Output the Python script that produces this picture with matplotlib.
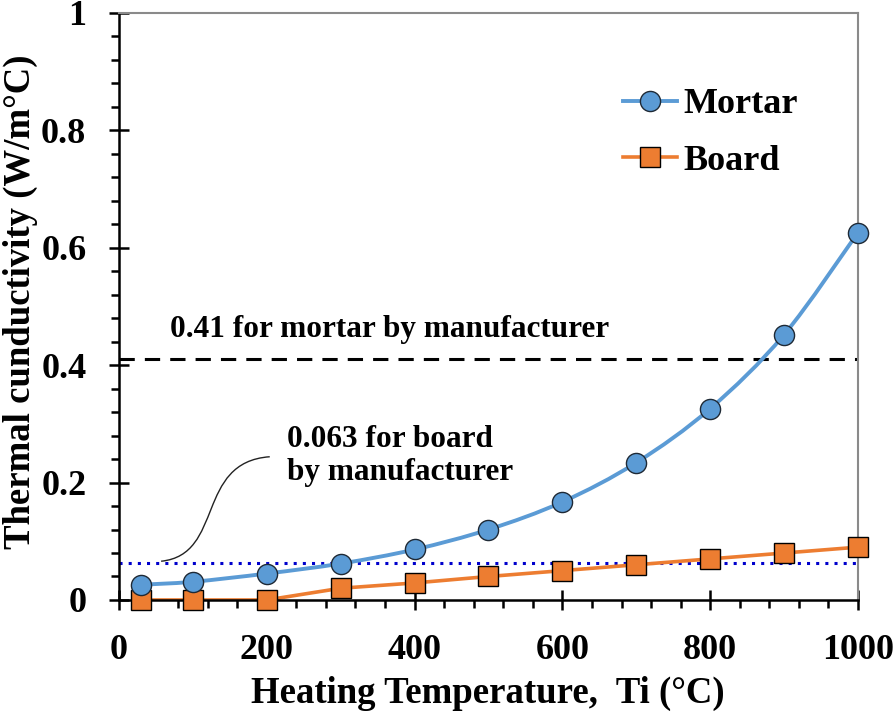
import numpy as np
import matplotlib.pyplot as plt
from matplotlib.path import Path
from matplotlib.patches import PathPatch
from matplotlib.lines import Line2D
from matplotlib.ticker import MultipleLocator

plt.rcParams['font.family'] = ['Liberation Serif', 'DejaVu Serif']
plt.rcParams['font.weight'] = 'bold'

temps = [30, 100, 200, 300, 400, 500, 600, 700, 800, 900, 1000]
mortar = [0.026, 0.031, 0.045, 0.062, 0.086, 0.12, 0.167, 0.234, 0.326, 0.452, 0.626]
board = [0.0, 0.0, 0.0, 0.02, 0.029, 0.04, 0.05, 0.06, 0.07, 0.08, 0.09]
mortar_ref = 0.41
board_ref = 0.063

blue = '#5B9BD5'
orange = '#ED7D31'


def smooth_path(x, y):
    # excel style smoothed line: catmull-rom segments as cubic beziers
    p = np.column_stack([x, y]).astype(float)
    n = len(p)
    verts = [p[0]]
    codes = [Path.MOVETO]
    for i in range(n - 1):
        p0 = p[i - 1] if i > 0 else p[i]
        p3 = p[i + 2] if i + 2 < n else p[i + 1]
        c1 = p[i] + (p[i + 1] - p0) / 6
        c2 = p[i + 1] - (p3 - p[i]) / 6
        verts += [c1, c2, p[i + 1]]
        codes += [Path.CURVE4] * 3
    return Path(verts, codes)


def ytick_fmt(v, pos):
    v = round(v, 2)
    if v == 0:
        return '0'
    if v == 1:
        return '1'
    return f'{v:.1f}'


fig = plt.figure(figsize=(8.96, 7.14), dpi=100)
ax = fig.add_axes([0.1328, 0.1597, 0.9576 - 0.1328, 0.9818 - 0.1597])

ax.axhline(mortar_ref, color='black', lw=2.2, dashes=(5, 3.3), zorder=1)
ax.axhline(board_ref, color='#0000CC', lw=2.2, dashes=(1, 2), zorder=1)

ax.add_patch(PathPatch(smooth_path(temps, mortar), fill=False, ec=blue, lw=2.8, zorder=2))
ax.plot(temps, board, color=orange, lw=2.6, zorder=2)
ax.plot(temps, mortar, 'o', ms=14.5, mfc=blue, mec='#1f2a36', mew=1.0, zorder=4, clip_on=False)
ax.plot(temps, board, 's', ms=14.5, mfc=orange, mec='black', mew=1.0, zorder=3, clip_on=False)

# connector for the board note
conn = Path([(57, 0.066), (143, 0.077), (103, 0.235), (204, 0.244)],
            [Path.MOVETO, Path.CURVE4, Path.CURVE4, Path.CURVE4])
ax.add_patch(PathPatch(conn, fill=False, ec='#222222', lw=1.0))

ax.text(69, 0.46, '0.41 for mortar by manufacturer', fontsize=22.5, fontweight='bold',
        va='center', ha='left')
ax.text(227, 0.245, '0.063 for board\nby manufacturer', fontsize=22.5, fontweight='bold',
        va='center', ha='left', linespacing=1.2)

ax.set_xlim(0, 1000)
ax.set_ylim(0, 1)
ax.xaxis.set_major_locator(MultipleLocator(200))
ax.xaxis.set_minor_locator(MultipleLocator(40))
ax.yaxis.set_major_locator(MultipleLocator(0.2))
ax.yaxis.set_minor_locator(MultipleLocator(0.04))
ax.yaxis.set_major_formatter(plt.FuncFormatter(ytick_fmt))

ax.tick_params(which='major', direction='inout', length=15, width=1.8, labelsize=26)
ax.tick_params(axis='x', which='major', pad=17)
ax.tick_params(axis='y', which='major', pad=16)
ax.tick_params(which='minor', direction='out', length=6, width=1.8)
for lab in ax.get_xticklabels() + ax.get_yticklabels():
    lab.set_fontweight('bold')

ax.spines['left'].set_linewidth(1.8)
ax.spines['bottom'].set_linewidth(1.8)
ax.spines['right'].set_color('#8a8a8a')
ax.spines['top'].set_color('#8a8a8a')
ax.spines['right'].set_linewidth(1.5)
ax.spines['top'].set_linewidth(1.5)

ax.set_xlabel('Heating Temperature,  Ti (°C)', fontsize=26.5, fontweight='bold', va='center')
ax.set_ylabel('Thermal cunductivity (W/m°C)', fontsize=26.5, fontweight='bold', va='center')
ax.xaxis.set_label_coords(0.499, -0.16)
ax.yaxis.set_label_coords(-0.133, 0.508)

handles = [Line2D([], [], color=blue, lw=2.8, marker='o', ms=14.5, mfc=blue, mec='#1f2a36'),
           Line2D([], [], color=orange, lw=2.6, marker='s', ms=14.5, mfc=orange, mec='black')]
ax.legend(handles, ['Mortar', 'Board'], loc='upper left', bbox_to_anchor=(0.682, 0.872),
          frameon=False, prop={'size': 26, 'weight': 'bold'}, handlelength=1.5,
          handletextpad=0.17, labelspacing=0.64, borderpad=0, borderaxespad=0)

fig.savefig('out.png', dpi=100)
